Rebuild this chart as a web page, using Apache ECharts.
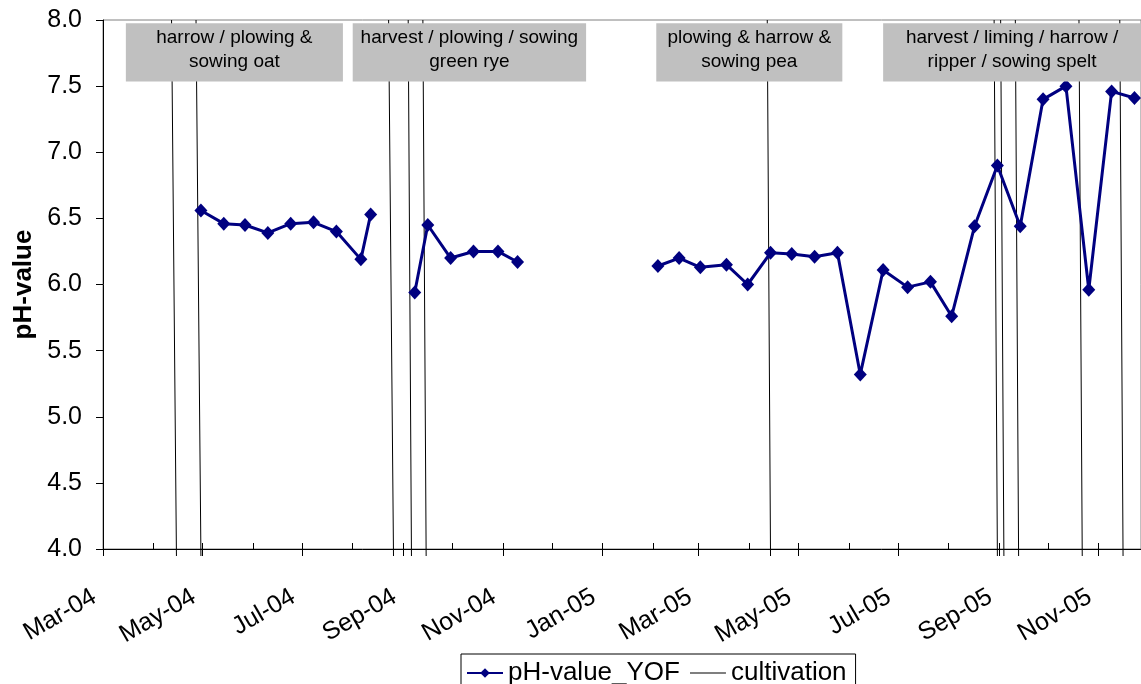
<!DOCTYPE html>
<html>
<head>
<meta charset="utf-8">
<title>pH-value YOF</title>
<script src="https://cdn.jsdelivr.net/npm/echarts@6/dist/echarts.min.js"></script>
<style>
  html, body { margin: 0; padding: 0; background: #fff; }
  #chart { width: 1141px; height: 684px; }
</style>
</head>
<body>
<div id="chart"></div>
<script>
// pH-Werte YOF (null = keine Messung, Linie unterbrochen)
const phDates = [
  '2004-04-30', '2004-05-14', '2004-05-27', '2004-06-10', '2004-06-24', '2004-07-08', '2004-07-22', '2004-08-06', '2004-08-12', '2004-08-26',
  '2004-09-08', '2004-09-16', '2004-09-30', '2004-10-14', '2004-10-29', '2004-11-10', '2004-12-20',
  '2005-02-04', '2005-02-17', '2005-03-02', '2005-03-18', '2005-03-31', '2005-04-14', '2005-04-27', '2005-05-11', '2005-05-25', '2005-06-08', '2005-06-22',
  '2005-07-07', '2005-07-21', '2005-08-03', '2005-08-17', '2005-08-31', '2005-09-14', '2005-09-28', '2005-10-12', '2005-10-26', '2005-11-09', '2005-11-23'
]
const phValues = [
  6.56, 6.46, 6.45, 6.39, 6.46, 6.47, 6.40, 6.19, 6.53, null,
  5.94, 6.45, 6.20, 6.25, 6.25, 6.17, null,
  6.14, 6.20, 6.13, 6.15, 6.00, 6.24, 6.23, 6.21, 6.24, 5.32, 6.11,
  5.98, 6.02, 5.76, 6.44, 6.90, 6.44, 7.40, 7.50, 5.96, 7.46, 7.41
]

// Bodenbearbeitung: Linien leicht schräg (unten / oben)
const cultBottom = ['2004-04-15', '2004-04-30', '2004-08-26', '2004-09-06', '2004-09-15', '2005-04-14', '2005-08-31', '2005-09-04', '2005-09-13', '2005-10-22', '2005-11-16']
const cultTop = ['2004-04-12', '2004-04-27', '2004-08-23', '2004-09-04', '2004-09-13', '2005-04-12', '2005-08-29', '2005-09-02', '2005-09-11', '2005-10-20', '2005-11-14']
const cultLow = 3.947
const cultHigh = 8.0

// Beschriftungskästen oben
const boxStart = ['2004-03-15', '2004-08-01', '2005-02-03', '2005-06-22']
const boxEnd = ['2004-07-26', '2004-12-22', '2005-05-28', '2005-11-29']
const boxText = [
  'harrow / plowing &\nsowing oat',
  'harvest / plowing / sowing\ngreen rye',
  'plowing & harrow &\nsowing pea',
  'harvest / liming / harrow /\nripper / sowing spelt'
]
const boxLow = 7.535
const boxHigh = 7.975

// Achse
const xMin = '2004-03-01'
const xMax = '2005-11-27'
const xTickDates = ['2004-03-01', '2004-05-01', '2004-07-01', '2004-09-01', '2004-11-01', '2005-01-01', '2005-03-01', '2005-05-01', '2005-07-01', '2005-09-01', '2005-11-01']
const xTickLabels = ['Mar-04', 'May-04', 'Jul-04', 'Sep-04', 'Nov-04', 'Jan-05', 'Mar-05', 'May-05', 'Jul-05', 'Sep-05', 'Nov-05']
const monthTicks = [
  '2004-03-01', '2004-04-01', '2004-05-01', '2004-06-01', '2004-07-01', '2004-08-01', '2004-09-01', '2004-10-01', '2004-11-01', '2004-12-01',
  '2005-01-01', '2005-02-01', '2005-03-01', '2005-04-01', '2005-05-01', '2005-06-01', '2005-07-01', '2005-08-01', '2005-09-01', '2005-10-01', '2005-11-01'
]

// Datum -> Zeitstempel (lokal, wie ECharts)
const ts = (s) => {
  const p = s.split('-')
  return new Date(+p[0], +p[1] - 1, +p[2]).getTime()
}
const font = 'Liberation Sans, Arial, sans-serif'

const labelAt = {}
xTickDates.forEach((d, i) => { labelAt[ts(d)] = xTickLabels[i] })

const phData = phDates.map((d, i) => [ts(d), phValues[i]])
const cultData = []
cultBottom.forEach((d, i) => {
  cultData.push([ts(cultTop[i]), cultHigh])
  cultData.push([ts(d), cultLow])
  cultData.push([ts(d), null])
})
const boxes = boxText.map((t, i) => [
  { name: t, xAxis: ts(boxStart[i]), yAxis: boxLow },
  { xAxis: ts(boxEnd[i]), yAxis: boxHigh }
])

const chart = echarts.init(document.getElementById('chart'))
chart.setOption({
  animation: false,
  backgroundColor: '#fff',
  textStyle: { fontFamily: font },
  grid: {
    left: 103,
    right: -1,
    top: 20,
    bottom: 135,
    show: true,
    borderColor: '#808080',
    borderWidth: 1
  },
  legend: {
    left: 461,
    top: 654,
    padding: [6, 9, 6, 5],
    itemWidth: 36,
    itemHeight: 12,
    itemGap: 10,
    borderColor: '#000',
    borderWidth: 1,
    backgroundColor: '#fff',
    textStyle: { fontSize: 26, color: '#000', fontFamily: font },
    data: [
      { name: 'pH-value_YOF' },
      { name: 'cultivation', icon: 'path://M0,0L36,0L36,1L0,1Z', itemStyle: { color: '#000' } }
    ]
  },
  xAxis: [
    {
      type: 'value',
      position: 'bottom',
      min: ts(xMin),
      max: ts(xMax),
      axisLine: { onZero: false, lineStyle: { color: '#000', width: 1 } },
      axisTick: { show: true, inside: false, length: 7, customValues: xTickDates.map(ts), lineStyle: { color: '#000' } },
      axisLabel: {
        customValues: xTickDates.map(ts),
        rotate: 30,
        margin: 41,
        padding: [0, 10, 0, 0],
        fontSize: 25,
        color: '#000',
        fontFamily: font,
        formatter: (v) => labelAt[v] || ''
      },
      splitLine: { show: false }
    },
    {
      // Monatsstriche innen
      type: 'value',
      position: 'bottom',
      min: ts(xMin),
      max: ts(xMax),
      axisLine: { show: false, onZero: false },
      axisTick: { show: true, inside: true, length: 6, customValues: monthTicks.map(ts), lineStyle: { color: '#000' } },
      axisLabel: { show: false },
      splitLine: { show: false }
    }
  ],
  yAxis: {
    type: 'value',
    min: 4,
    max: 8,
    interval: 0.5,
    name: 'pH-value',
    nameLocation: 'middle',
    nameGap: 66,
    nameTextStyle: { fontSize: 26, fontWeight: 'bold', color: '#000', fontFamily: font },
    axisLine: { show: true, lineStyle: { color: '#000', width: 1 } },
    axisTick: { show: true, inside: false, length: 7, lineStyle: { color: '#000' } },
    axisLabel: {
      margin: 21,
      fontSize: 25,
      color: '#000',
      fontFamily: font,
      formatter: (v) => v.toFixed(1)
    },
    splitLine: { show: false }
  },
  series: [
    {
      name: 'cultivation',
      type: 'line',
      xAxisIndex: 0,
      data: cultData,
      symbol: 'none',
      clip: false,
      connectNulls: false,
      color: '#000',
      lineStyle: { color: '#000', width: 1 },
      z: 2,
      markArea: {
        silent: true,
        z: 10,
        itemStyle: { color: '#c0c0c0', opacity: 1, borderWidth: 0 },
        label: {
          show: true,
          position: 'inside',
          offset: [0, -3],
          color: '#000',
          fontSize: 19,
          lineHeight: 24,
          fontFamily: font,
          align: 'center'
        },
        data: boxes
      }
    },
    {
      name: 'pH-value_YOF',
      type: 'line',
      xAxisIndex: 0,
      data: phData,
      connectNulls: false,
      symbol: 'diamond',
      symbolSize: [13, 14],
      color: '#000080',
      lineStyle: { color: '#000080', width: 3 },
      itemStyle: { color: '#000080' },
      z: 4
    }
  ]
})
</script>
</body>
</html>
